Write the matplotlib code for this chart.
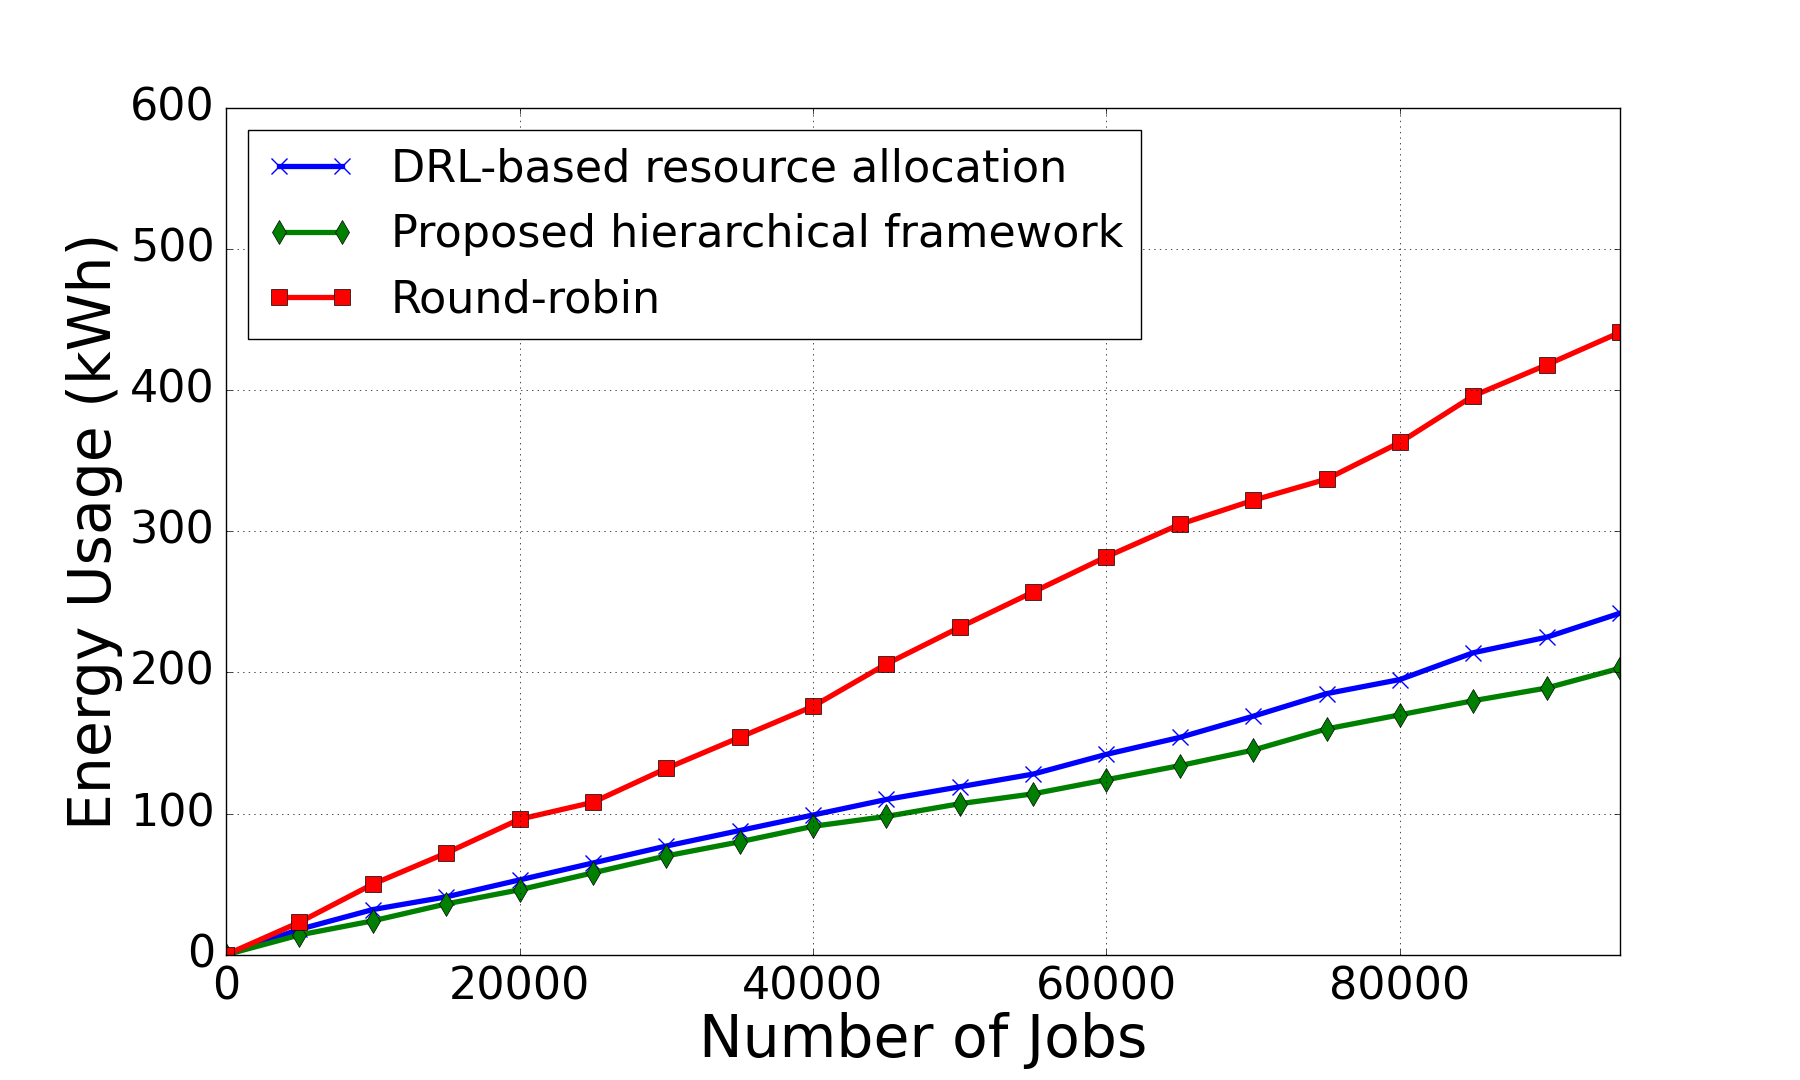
import matplotlib
matplotlib.use("Agg")
import matplotlib.pyplot as plt

plt.style.use("classic")
plt.rcParams['font.family'] = ['DejaVu Sans']

jobs = [0, 5000, 10000, 15000, 20000, 25000, 30000, 35000, 40000, 45000,
        50000, 55000, 60000, 65000, 70000, 75000, 80000, 85000, 90000, 95000]
drl = [0, 18, 32, 41, 53, 65, 77, 88, 99, 110,
       119, 128, 142, 154, 169, 185, 195, 214, 225, 242]
hier = [0, 14, 24, 36, 46, 58, 70, 80, 91, 98,
        107, 114, 124, 134, 145, 160, 170, 180, 189, 203]
rr = [0, 23, 50, 72, 96, 108, 132, 154, 176, 206,
      232, 257, 282, 305, 322, 337, 363, 396, 418, 441]

labels = ["DRL-based resource allocation", "Proposed hierarchical framework", "Round-robin"]

fig = plt.figure(figsize=(18, 10.8), dpi=100)
ax = fig.add_axes([0.1256, 0.116, 0.7744, 0.784])

ax.plot(jobs, drl, color='blue', marker='x', lw=3.8, ms=12, mew=1, label=labels[0])
ax.plot(jobs, hier, color='green', marker='d', lw=3.8, ms=12, label=labels[1])
ax.plot(jobs, rr, color='red', marker='s', lw=3.8, ms=12, label=labels[2])

ax.set_xlim(0, 95000)
ax.set_ylim(0, 600)
ax.set_xticks([0, 20000, 40000, 60000, 80000])
ax.set_yticks([0, 100, 200, 300, 400, 500, 600])
ax.tick_params(labelsize=32, pad=8)
ax.grid(True)
ax.set_xlabel("Number of Jobs", fontsize=42, labelpad=2)
ax.set_ylabel("Energy Usage (kWh)", fontsize=42)

leg = ax.legend(loc='upper left', fontsize=32, handlelength=2.0, borderaxespad=0.5)

fig.savefig("out.png", dpi=100)
